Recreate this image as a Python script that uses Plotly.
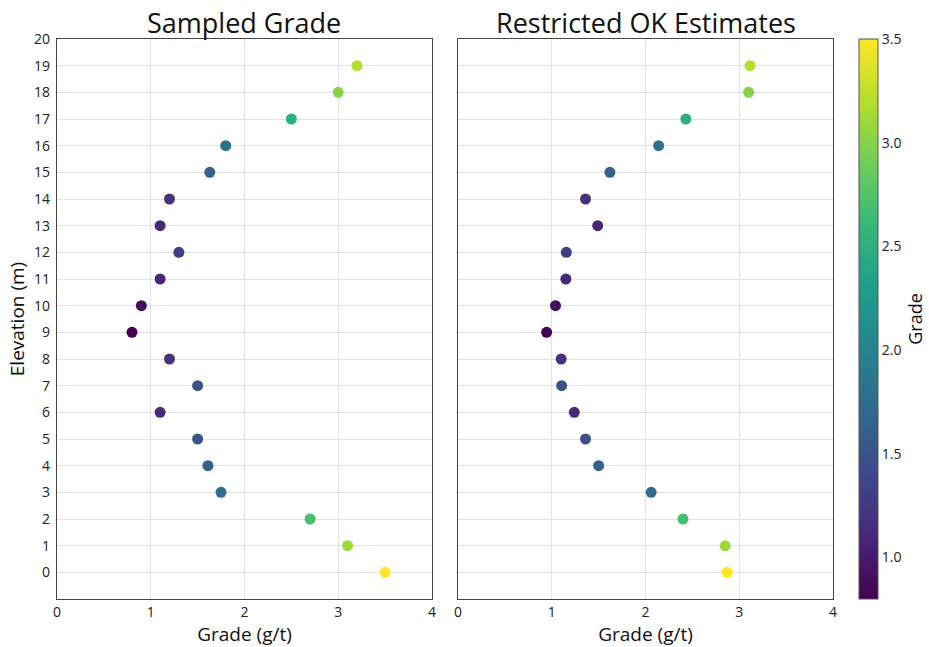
import plotly.graph_objects as go
from plotly.subplots import make_subplots

elevation = list(range(20))
sampled_grade = [3.50, 3.10, 2.70, 1.75, 1.61, 1.50, 1.10, 1.50, 1.20, 0.80,
                 0.90, 1.10, 1.30, 1.10, 1.20, 1.63, 1.80, 2.50, 3.00, 3.20]
ok_estimate = [2.87, 2.85, 2.40, 2.06, 1.50, 1.36, 1.24, 1.105, 1.10, 0.945,
               1.04, 1.15, 1.155, 1.49, 1.36, 1.62, 2.14, 2.43, 3.10, 3.115]
titles = ["Sampled Grade", "Restricted OK Estimates"]
colorbar_ticks = [1.0, 1.5, 2.0, 2.5, 3.0, 3.5]

FONT = "'Open Sans', sans-serif"
cmin, cmax = min(sampled_grade), max(sampled_grade)

fig = make_subplots(rows=1, cols=2, shared_yaxes=True, horizontal_spacing=0.0336,
                    subplot_titles=titles)

fig.add_trace(go.Scatter(
    x=sampled_grade, y=elevation, mode="markers",
    marker=dict(size=11, color=sampled_grade, colorscale="Viridis",
                cmin=cmin, cmax=cmax, showscale=False),
    showlegend=False), row=1, col=1)

fig.add_trace(go.Scatter(
    x=ok_estimate, y=elevation, mode="markers",
    marker=dict(size=11, color=sampled_grade, colorscale="Viridis",
                cmin=cmin, cmax=cmax, showscale=True,
                colorbar=dict(
                    x=1.0335, xanchor="left", thickness=19, len=1, lenmode="fraction",
                    y=0.5, yanchor="middle", outlinewidth=1, outlinecolor="#555",
                    tickvals=colorbar_ticks, ticktext=[f"{v:.1f}" for v in colorbar_ticks],
                    tickfont=dict(size=14, color="#222", family=FONT),
                    title=dict(text="Grade", side="right",
                               font=dict(size=18, color="#111", family=FONT)),
                    ticks="", xpad=0, ypad=0)),
    showlegend=False), row=1, col=2)

axis_common = dict(showline=True, linecolor="#444", linewidth=1.3, mirror=True,
                   showgrid=True, gridcolor="#e2e2e2", gridwidth=1, zeroline=False,
                   ticks="", tickfont=dict(size=14, color="#222", family=FONT))

for c in (1, 2):
    fig.update_xaxes(range=[0, 4], tickvals=[0, 1, 2, 3, 4], ticklabelstandoff=0,
                     title=dict(text="Grade (g/t)", font=dict(size=19, color="#111", family=FONT),
                                standoff=8),
                     row=1, col=c, **axis_common)
    fig.update_yaxes(range=[-1, 20], tickvals=list(range(21)), ticklabelstandoff=3,
                     row=1, col=c, **axis_common)

fig.update_yaxes(title=dict(text="Elevation (m)", font=dict(size=19, color="#111", family=FONT),
                            standoff=4), row=1, col=1)
fig.update_yaxes(showticklabels=False, row=1, col=2)

for ann in fig.layout.annotations:
    ann.font = dict(size=27, color="#111", family=FONT)
    ann.yshift = -4

fig.update_layout(width=929, height=647,
                  margin=dict(l=57, r=96, t=39, b=48, autoexpand=False),
                  plot_bgcolor="white", paper_bgcolor="white",
                  font=dict(family=FONT))

# remove the default page margin so the figure fills the window exactly
fig.write_html("out.html", config={"displayModeBar": False},
               post_script="document.body.style.margin='0';document.body.style.overflow='hidden';")
